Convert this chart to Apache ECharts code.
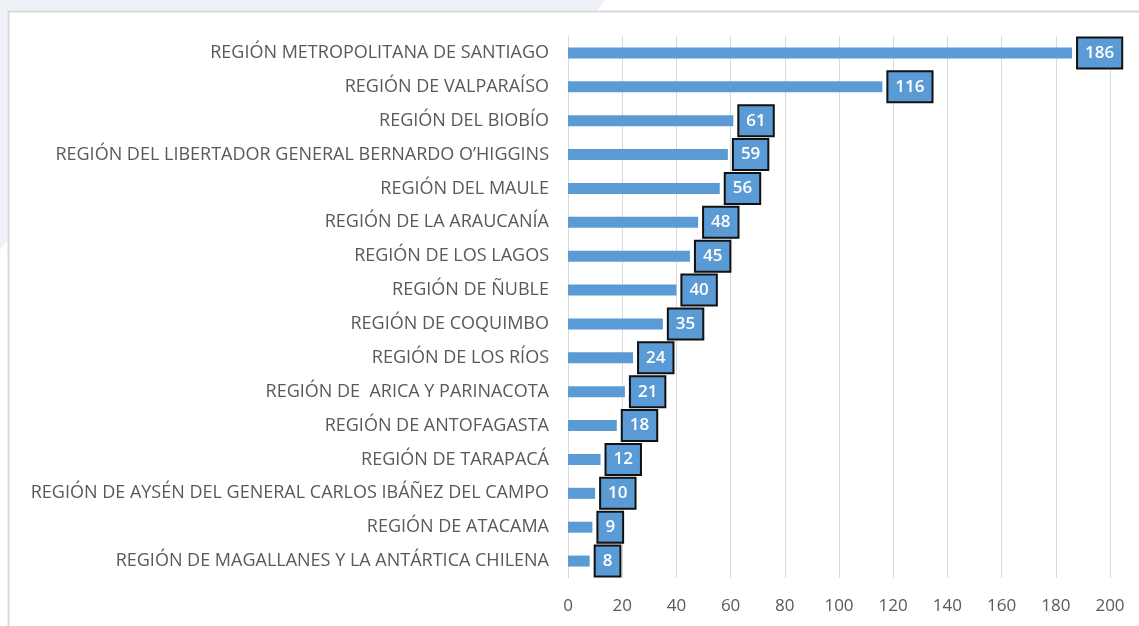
<!DOCTYPE html>
<html>
<head>
<meta charset="utf-8">
<script src="https://cdn.jsdelivr.net/npm/echarts@6/dist/echarts.min.js"></script>
<style>
    html, body { margin: 0; padding: 0; background: #ffffff; }
    #chart { width: 1139px; height: 626px; }
</style>
</head>
<body>
<div id="chart"></div>
<script>
// regiones, de arriba hacia abajo
const regiones = [
    'REGIÓN METROPOLITANA DE SANTIAGO',
    'REGIÓN DE VALPARAÍSO',
    'REGIÓN DEL BIOBÍO',
    'REGIÓN DEL LIBERTADOR GENERAL BERNARDO O’HIGGINS',
    'REGIÓN DEL MAULE',
    'REGIÓN DE LA ARAUCANÍA',
    'REGIÓN DE LOS LAGOS',
    'REGIÓN DE ÑUBLE',
    'REGIÓN DE COQUIMBO',
    'REGIÓN DE LOS RÍOS',
    'REGIÓN DE  ARICA Y PARINACOTA',
    'REGIÓN DE ANTOFAGASTA',
    'REGIÓN DE TARAPACÁ',
    'REGIÓN DE AYSÉN DEL GENERAL CARLOS IBÁÑEZ DEL CAMPO',
    'REGIÓN DE ATACAMA',
    'REGIÓN DE MAGALLANES Y LA ANTÁRTICA CHILENA'
]
const valores = [186, 116, 61, 59, 56, 48, 45, 40, 35, 24, 21, 18, 12, 10, 9, 8]

const ejeMin = 0
const ejeMax = 200
const ejePaso = 20

const font = '"Open Sans", sans-serif'

const chart = echarts.init(document.getElementById('chart'))

const option = {
    backgroundColor: '#ffffff',
    animation: false,
    // fondo de la diapositiva
    graphic: [
        {
            type: 'polygon',
            silent: true,
            shape: { points: [[0, 0], [605, 0], [597, 11], [0, 11]] },
            style: { fill: '#eef2f7' }
        },
        {
            type: 'polygon',
            silent: true,
            shape: { points: [[0, 11], [8, 11], [8, 240], [0, 250]] },
            style: { fill: '#eef2f7' }
        },
        {
            type: 'polyline',
            silent: true,
            shape: { points: [[1139, 11.5], [8.5, 11.5], [8.5, 626]] },
            style: { stroke: '#d9d9d9', lineWidth: 2, fill: null }
        }
    ],
    grid: {
        left: 568,
        right: 29,
        top: 36,
        bottom: 48
    },
    xAxis: {
        type: 'value',
        min: ejeMin,
        max: ejeMax,
        interval: ejePaso,
        axisLine: { show: false },
        axisTick: { show: false },
        axisLabel: {
            color: '#595959',
            fontFamily: font,
            fontSize: 17,
            margin: 20
        },
        splitLine: {
            lineStyle: { color: '#d9d9d9', width: 1 }
        }
    },
    yAxis: {
        type: 'category',
        inverse: true,
        data: regiones,
        axisTick: { show: false },
        axisLine: {
            show: true,
            lineStyle: { color: '#d9d9d9', width: 1 }
        },
        axisLabel: {
            color: '#595959',
            fontFamily: font,
            fontSize: 18,
            margin: 19
        }
    },
    series: [
        {
            type: 'bar',
            data: valores,
            barWidth: 11,
            itemStyle: { color: '#5b9bd5' },
            label: {
                show: true,
                position: 'right',
                distance: 6,
                color: '#ffffff',
                fontFamily: font,
                fontSize: 17,
                fontWeight: 600,
                lineHeight: 19,
                backgroundColor: '#5b9bd5',
                borderColor: '#111111',
                borderWidth: 2,
                padding: [5, 7]
            }
        }
    ]
}

chart.setOption(option)

window.addEventListener('resize', function () {
    chart.resize()
})
</script>
</body>
</html>
